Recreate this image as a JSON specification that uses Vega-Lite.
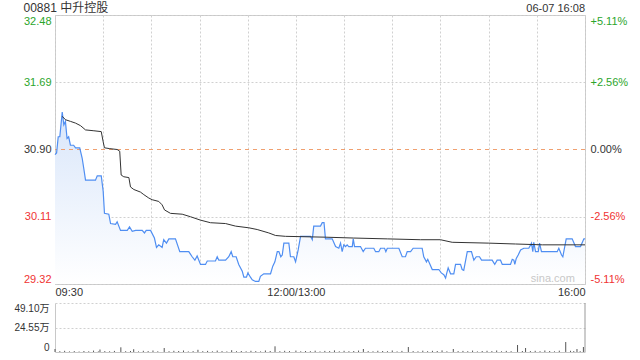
{
  "$schema": "https://vega.github.io/schema/vega-lite/v6.json",
  "background": "white",
  "padding": {"left": 13, "top": 1, "right": 4, "bottom": 2},
  "spacing": 4,
  "datasets": {
    "price": [
      {"m":0,"p":30.84},{"m":1,"p":30.86},{"m":2,"p":31.05},{"m":3,"p":31.05},{"m":4.5,"p":31.34},{"m":5.5,"p":31.19},{"m":6.5,"p":31.23},{"m":7.5,"p":31.03},{"m":8.5,"p":31.05},{"m":9.6,"p":30.95},{"m":11.6,"p":30.95},{"m":12.8,"p":30.92},{"m":15.4,"p":30.92},{"m":16.9,"p":30.80},{"m":17.9,"p":30.68},{"m":19,"p":30.54},{"m":25.2,"p":30.54},{"m":26.3,"p":30.59},{"m":28.8,"p":30.59},{"m":30,"p":30.41},{"m":30.8,"p":30.15},{"m":33.5,"p":30.14},{"m":34.6,"p":30.03},{"m":37.7,"p":30.02},{"m":38.7,"p":30.05},{"m":40.8,"p":29.95},{"m":45,"p":29.95},{"m":46.4,"p":29.99},{"m":48.1,"p":29.94},{"m":50.2,"p":29.95},{"m":54.3,"p":29.95},{"m":55.7,"p":29.92},{"m":56.8,"p":29.95},{"m":59.5,"p":29.95},{"m":61.9,"p":29.86},{"m":63.2,"p":29.75},{"m":64.6,"p":29.78},{"m":66.7,"p":29.75},{"m":67.7,"p":29.84},{"m":69.4,"p":29.80},{"m":70.9,"p":29.85},{"m":75,"p":29.85},{"m":77.7,"p":29.70},{"m":83.3,"p":29.70},{"m":85.4,"p":29.64},{"m":87.1,"p":29.60},{"m":88.5,"p":29.65},{"m":90.6,"p":29.55},{"m":93.7,"p":29.55},{"m":94.8,"p":29.59},{"m":99.9,"p":29.59},{"m":101,"p":29.64},{"m":102,"p":29.60},{"m":106.2,"p":29.60},{"m":108.2,"p":29.64},{"m":109.7,"p":29.70},{"m":110.7,"p":29.64},{"m":112.8,"p":29.64},{"m":114.4,"p":29.55},{"m":116.6,"p":29.47},{"m":117.6,"p":29.40},{"m":119.2,"p":29.40},{"m":120.1,"p":29.45},{"m":121.7,"p":29.40},{"m":122.8,"p":29.37},{"m":124.8,"p":29.35},{"m":126.9,"p":29.35},{"m":127.9,"p":29.41},{"m":130,"p":29.44},{"m":134.2,"p":29.44},{"m":135.6,"p":29.53},{"m":136.9,"p":29.58},{"m":138.4,"p":29.70},{"m":139.4,"p":29.70},{"m":140.6,"p":29.64},{"m":141.5,"p":29.66},{"m":142.5,"p":29.80},{"m":145.6,"p":29.80},{"m":146.6,"p":29.64},{"m":148.7,"p":29.64},{"m":149.8,"p":29.58},{"m":151.4,"p":29.72},{"m":152.9,"p":29.88},{"m":159.1,"p":29.88},{"m":160.2,"p":29.84},{"m":161.1,"p":30.00},{"m":165.3,"p":30.00},{"m":166.4,"p":30.04},{"m":167.5,"p":30.04},{"m":168.4,"p":29.85},{"m":172.6,"p":29.85},{"m":174.7,"p":29.76},{"m":176.7,"p":29.74},{"m":177.8,"p":29.80},{"m":178.8,"p":29.70},{"m":179.8,"p":29.78},{"m":180.9,"p":29.76},{"m":181.9,"p":29.78},{"m":182.9,"p":29.76},{"m":185.1,"p":29.76},{"m":185.7,"p":29.85},{"m":186.5,"p":29.76},{"m":190.2,"p":29.76},{"m":191.9,"p":29.70},{"m":193.3,"p":29.74},{"m":198.5,"p":29.74},{"m":199.6,"p":29.70},{"m":201.6,"p":29.70},{"m":202.7,"p":29.74},{"m":205.2,"p":29.74},{"m":206,"p":29.70},{"m":206.9,"p":29.74},{"m":214.1,"p":29.74},{"m":216.2,"p":29.64},{"m":218.2,"p":29.64},{"m":219.3,"p":29.70},{"m":221.4,"p":29.70},{"m":223,"p":29.74},{"m":228.6,"p":29.74},{"m":229.6,"p":29.64},{"m":231.3,"p":29.58},{"m":232.1,"p":29.61},{"m":234.9,"p":29.49},{"m":239,"p":29.49},{"m":240.5,"p":29.45},{"m":242.1,"p":29.43},{"m":243.2,"p":29.39},{"m":243.8,"p":29.44},{"m":244.8,"p":29.51},{"m":246.3,"p":29.44},{"m":248.3,"p":29.44},{"m":249.4,"p":29.55},{"m":252.5,"p":29.55},{"m":253.5,"p":29.49},{"m":254.5,"p":29.48},{"m":256.7,"p":29.70},{"m":259.3,"p":29.70},{"m":260.8,"p":29.60},{"m":262.3,"p":29.64},{"m":264.3,"p":29.64},{"m":265.6,"p":29.60},{"m":272.2,"p":29.60},{"m":273.8,"p":29.55},{"m":275.3,"p":29.60},{"m":277.4,"p":29.60},{"m":278.5,"p":29.55},{"m":283.6,"p":29.55},{"m":284.7,"p":29.61},{"m":285.7,"p":29.60},{"m":286.3,"p":29.55},{"m":287.2,"p":29.62},{"m":288.4,"p":29.66},{"m":289.9,"p":29.72},{"m":291.9,"p":29.74},{"m":295,"p":29.74},{"m":296.7,"p":29.80},{"m":297.5,"p":29.70},{"m":298.1,"p":29.81},{"m":299.2,"p":29.70},{"m":300.9,"p":29.70},{"m":301.7,"p":29.80},{"m":302.9,"p":29.70},{"m":312.7,"p":29.70},{"m":313.7,"p":29.74},{"m":315.4,"p":29.66},{"m":316.2,"p":29.64},{"m":318.3,"p":29.85},{"m":322,"p":29.85},{"m":324.1,"p":29.76},{"m":327.2,"p":29.76},{"m":329.3,"p":29.85},{"m":330,"p":29.85}
    ],
    "avg": [
      {"m":4.5,"p":31.29},{"m":6.5,"p":31.25},{"m":9.7,"p":31.23},{"m":12.8,"p":31.21},{"m":15.9,"p":31.18},{"m":19,"p":31.13},{"m":24.2,"p":31.12},{"m":28.8,"p":31.11},{"m":30,"p":30.99},{"m":30.8,"p":30.92},{"m":34.1,"p":30.91},{"m":38.7,"p":30.90},{"m":40.3,"p":30.88},{"m":41.2,"p":30.60},{"m":42.8,"p":30.58},{"m":46,"p":30.57},{"m":47,"p":30.46},{"m":49.1,"p":30.43},{"m":53.2,"p":30.40},{"m":55.3,"p":30.37},{"m":58.4,"p":30.33},{"m":60.5,"p":30.31},{"m":64.6,"p":30.29},{"m":66.7,"p":30.25},{"m":68.2,"p":30.19},{"m":71.9,"p":30.15},{"m":79.2,"p":30.14},{"m":84.4,"p":30.11},{"m":90.6,"p":30.07},{"m":96.8,"p":30.04},{"m":106.2,"p":30.03},{"m":112.4,"p":30.00},{"m":120.7,"p":29.98},{"m":125.9,"p":29.96},{"m":133.1,"p":29.92},{"m":137.3,"p":29.89},{"m":143.5,"p":29.88},{"m":168.4,"p":29.87},{"m":186,"p":29.86},{"m":206.9,"p":29.85},{"m":227.6,"p":29.84},{"m":240,"p":29.84},{"m":247.3,"p":29.81},{"m":270.1,"p":29.80},{"m":286.7,"p":29.79},{"m":303.4,"p":29.78},{"m":330,"p":29.78}
    ],
    "vol": [
      {"m":0,"v":30000},{"m":3,"v":8000},{"m":6,"v":12000},{"m":9,"v":6000},{"m":12,"v":9000},{"m":15,"v":5000},{"m":18,"v":10000},{"m":21,"v":7000},{"m":24,"v":14000},{"m":27,"v":6000},{"m":28,"v":25000},{"m":31,"v":9000},{"m":34,"v":7000},{"m":37,"v":11000},{"m":41,"v":47000},{"m":44,"v":8000},{"m":47,"v":10000},{"m":49,"v":28000},{"m":52,"v":6000},{"m":55,"v":12000},{"m":58,"v":9000},{"m":61,"v":15000},{"m":64,"v":7000},{"m":68,"v":40000},{"m":71,"v":8000},{"m":74,"v":12000},{"m":77,"v":10000},{"m":80,"v":15000},{"m":83,"v":6000},{"m":86,"v":9000},{"m":89,"v":22000},{"m":92,"v":8000},{"m":95,"v":11000},{"m":98,"v":7000},{"m":101,"v":14000},{"m":104,"v":9000},{"m":107,"v":6000},{"m":110,"v":18000},{"m":113,"v":8000},{"m":116,"v":10000},{"m":119,"v":7000},{"m":122,"v":12000},{"m":125,"v":9000},{"m":128,"v":6000},{"m":131,"v":15000},{"m":134,"v":10000},{"m":137,"v":57000},{"m":140,"v":8000},{"m":143,"v":12000},{"m":146,"v":9000},{"m":150,"v":14000},{"m":153,"v":7000},{"m":156,"v":10000},{"m":159,"v":8000},{"m":162,"v":13000},{"m":165,"v":6000},{"m":168,"v":11000},{"m":171,"v":9000},{"m":174,"v":16000},{"m":177,"v":7000},{"m":180,"v":12000},{"m":183,"v":8000},{"m":186,"v":10000},{"m":189,"v":14000},{"m":192,"v":30000},{"m":195,"v":9000},{"m":198,"v":7000},{"m":201,"v":12000},{"m":204,"v":10000},{"m":207,"v":8000},{"m":210,"v":15000},{"m":213,"v":6000},{"m":216,"v":11000},{"m":220,"v":50000},{"m":223,"v":9000},{"m":226,"v":7000},{"m":229,"v":13000},{"m":232,"v":8000},{"m":235,"v":12000},{"m":238,"v":10000},{"m":241,"v":16000},{"m":244,"v":7000},{"m":248,"v":30000},{"m":251,"v":9000},{"m":254,"v":11000},{"m":257,"v":8000},{"m":260,"v":14000},{"m":263,"v":6000},{"m":266,"v":10000},{"m":269,"v":12000},{"m":272,"v":9000},{"m":275,"v":15000},{"m":278,"v":7000},{"m":281,"v":11000},{"m":284,"v":8000},{"m":288,"v":70000},{"m":291,"v":10000},{"m":293,"v":40000},{"m":296,"v":9000},{"m":299,"v":12000},{"m":302,"v":8000},{"m":305,"v":15000},{"m":308,"v":10000},{"m":311,"v":7000},{"m":314,"v":13000},{"m":318,"v":100000},{"m":321,"v":12000},{"m":323,"v":9000},{"m":325,"v":30000},{"m":327,"v":8000},{"m":329,"v":50000}
    ]
  },
  "vconcat": [
    {
      "width": 530,
      "height": 269,
      "title": {"text": "00881 中升控股", "anchor": "start", "fontSize": 12, "fontWeight": "normal", "color": "#333333", "offset": -12},
      "layer": [
        {
          "layer": [
            {
              "data": {"name": "price"},
              "mark": {"type": "area", "line": false, "color": {"gradient": "linear", "x1": 0, "y1": 0, "x2": 0, "y2": 1, "stops": [{"offset": 0, "color": "#d9e6fa"}, {"offset": 1, "color": "#ffffff"}]}},
              "encoding": {
                "x": {"field": "m", "type": "quantitative", "scale": {"domain": [0, 330], "nice": false, "zero": false},
                  "axis": {"values": [0,30,60,90,120,150,180,210,240,270,300,330], "labelExpr": "datum.value==0?'09:30':datum.value==150?'12:00/13:00':datum.value==330?'16:00':''", "labelFlush": true, "labelOverlap": false, "labelPadding": 2, "ticks": false, "domain": false, "grid": true, "gridColor": "#d0d0d0", "gridDash": [2,2], "labelFontSize": 11, "labelColor": "#333333", "title": null}},
                "y": {"field": "p", "type": "quantitative", "scale": {"domain": [29.32, 32.48], "nice": false, "zero": false},
                  "axis": {"values": [29.32, 30.11, 30.9, 31.69, 32.48], "format": ".2f", "labelFlush": true, "labelOverlap": false, "ticks": false, "domain": false, "labelPadding": 4, "labelFontSize": 11, "title": null, "grid": true,
                    "gridColor": {"condition": {"test": "abs(datum.value-30.9)<0.001", "value": "transparent"}, "value": "#d0d0d0"}, "gridDash": [2,2],
                    "labelColor": {"condition": [{"test": "datum.value>30.95", "value": "#2ba52b"}, {"test": "datum.value<30.85", "value": "#f03333"}], "value": "#333333"}}},
                "y2": {"datum": 29.32, "type": "quantitative"}
              }
            },
            {
              "data": {"values": [{"close": 30.9}]},
              "mark": {"type": "rule", "color": "#f0a070", "strokeDash": [4,4], "strokeWidth": 1},
              "encoding": {"y": {"field": "close", "type": "quantitative"}}
            },
            {
              "data": {"name": "price"},
              "mark": {"type": "line", "color": "#4f8ef2", "strokeWidth": 1.2},
              "encoding": {"x": {"field": "m", "type": "quantitative"}, "y": {"field": "p", "type": "quantitative"}}
            },
            {
              "data": {"values": [{"t": "sina.com"}]},
              "mark": {"type": "text", "color": "#c8c8c8", "fontSize": 11, "align": "center", "baseline": "middle"},
              "encoding": {"x": {"datum": 310, "type": "quantitative"}, "y": {"datum": 29.38, "type": "quantitative"}, "text": {"field": "t", "type": "nominal"}}
            },
            {
              "data": {"values": [{"t": "06-07 16:08"}]},
              "mark": {"type": "text", "color": "#333333", "fontSize": 11, "align": "right", "baseline": "bottom", "dy": -1},
              "encoding": {"x": {"datum": 330, "type": "quantitative"}, "y": {"datum": 32.48, "type": "quantitative"}, "text": {"field": "t", "type": "nominal"}}
            }
          ]
        },
        {
          "data": {"name": "avg"},
          "mark": {"type": "line", "color": "#333333", "strokeWidth": 1},
          "encoding": {
            "x": {"field": "m", "type": "quantitative"},
            "y": {"field": "p", "type": "quantitative", "scale": {"domain": [29.32, 32.48], "nice": false, "zero": false},
              "axis": {"orient": "right", "values": [29.32, 30.11, 30.9, 31.69, 32.48], "labelFlush": true, "labelOverlap": false, "ticks": false, "domain": false, "grid": false, "labelPadding": 5, "labelFontSize": 11, "title": null,
                "labelExpr": "abs(datum.value-30.9)<0.001?'0.00%':(datum.value>30.9?'+':'-')+format(abs(datum.value-30.9)/30.9*100,'.2f')+'%'",
                "labelColor": {"condition": [{"test": "datum.value>30.95", "value": "#2ba52b"}, {"test": "datum.value<30.85", "value": "#f03333"}], "value": "#333333"}}}
          }
        }
      ],
      "resolve": {"scale": {"y": "independent"}}
    },
    {
      "width": 530,
      "height": 49,
      "view": {"stroke": null},
      "layer": [
        {
          "data": {"name": "vol"},
          "mark": {"type": "rule", "color": "#555555", "strokeWidth": 1},
          "encoding": {
            "x": {"field": "m", "type": "quantitative", "scale": {"domain": [0, 330], "nice": false, "zero": false},
              "axis": {"labels": false, "ticks": false, "grid": false, "domain": true, "domainColor": "#c8c8c8", "title": null}},
            "y": {"field": "v", "type": "quantitative", "scale": {"domain": [0, 491000], "nice": false},
              "axis": {"values": [0, 245500, 491000], "labelExpr": "datum.value==0?'0':format(datum.value/10000,'.2f')+'万'", "labelFlush": true, "labelOverlap": false, "ticks": false, "domain": true, "domainColor": "#c8c8c8", "labelPadding": 6, "labelFontSize": 10, "labelColor": "#333333", "title": null, "grid": true, "gridColor": {"condition": {"test": "datum.value==0", "value": "transparent"}, "value": "#d0d0d0"}, "gridDash": [2,2]}},
            "y2": {"datum": 0, "type": "quantitative"}
          }
        },
        {
          "data": {"values": [{"edge": 330}]},
          "mark": {"type": "rule", "color": "#999999", "strokeWidth": 1},
          "encoding": {"x": {"field": "edge", "type": "quantitative"}}
        }
      ]
    }
  ],
  "config": {
    "font": "Liberation Sans, Noto Sans CJK SC",
    "axis": {"labelFont": "Liberation Sans, Noto Sans CJK SC"},
    "title": {"font": "Liberation Sans, Noto Sans CJK SC"},
    "view": {"stroke": "#c8c8c8"}
  }
}
